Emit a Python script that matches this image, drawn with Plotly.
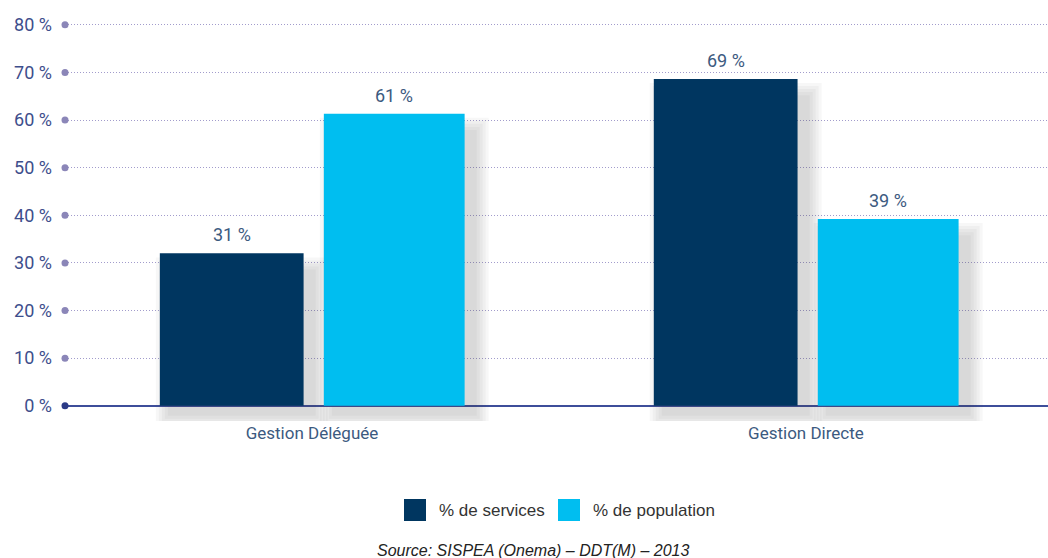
import plotly.graph_objects as go

categories = ["Gestion Déléguée", "Gestion Directe"]
services = [32.0, 68.6]
population = [61.3, 39.2]
services_labels = ["31 %", "69 %"]
population_labels = ["61 %", "39 %"]
tick_vals = [0, 10, 20, 30, 40, 50, 60, 70, 80]
tick_text = ["0 %", "10 %", "20 %", "30 %", "40 %", "50 %", "60 %", "70 %", "80 %"]
series_names = ["% de services", "% de population"]

DARK = "#003660"
CYAN = "#00BEF0"
TICKC = "#3D4E8C"
LABELC = "#3C5A80"

PX = 494.0   # pixels per category unit
PY = 4.7375  # pixels per percent
x_idx = [0, 1]

fig = go.Figure()

series = [
    (services, services_labels, -0.308, 0.291, DARK),
    (population, population_labels, 0.024, 0.285, CYAN),
]

# drop shadows (layered, to imitate blur)
for vals, _, off, w, _ in series:
    for s in [14, 11, 8, 5, 2]:
        fig.add_trace(go.Bar(
            x=x_idx,
            y=[v - (18 - s) / PY + (8 + s) / PY for v in vals],
            base=-(8 + s) / PY,
            offset=off + (10 - s) / PX, width=w + 2 * s / PX,
            marker=dict(color="rgba(60,60,70,0.045)", line=dict(width=0)),
            showlegend=False, hoverinfo="skip"))

annotations = []
for (vals, labels, off, w, col), name in zip(series, series_names):
    fig.add_trace(go.Bar(
        x=x_idx, y=vals, offset=off, width=w, name=name,
        marker=dict(color=col, line=dict(width=0)),
        showlegend=False, hoverinfo="skip"))
    for xi, v, lab in zip(x_idx, vals, labels):
        annotations.append(dict(x=xi + off + w / 2, y=v, xref="x", yref="y",
                                text=lab, showarrow=False, yanchor="bottom", yshift=6,
                                font=dict(family="Roboto", size=18, color=LABELC)))

# tick dots on the y axis
fig.add_trace(go.Scatter(
    x=[-0.5] * len(tick_vals), y=tick_vals, mode="markers",
    marker=dict(size=7, color=["#2B3A86"] + ["#8B86B8"] * (len(tick_vals) - 1)),
    cliponaxis=False, showlegend=False, hoverinfo="skip"))

# manual legend (large square swatches)
legend_shapes = []
lx = [404, 558]
for i, (name, col) in enumerate(zip(series_names, [DARK, CYAN])):
    legend_shapes.append(dict(type="rect", xref="paper", yref="paper",
                              x0=(lx[i] - 65) / 983, x1=(lx[i] + 22 - 65) / 983,
                              y0=(421 - 521) / 401, y1=(421 - 499) / 401,
                              fillcolor=col, line=dict(width=0)))
    annotations.append(dict(xref="paper", yref="paper", x=(lx[i] + 33 - 65) / 983,
                            y=(421 - 510) / 401, xanchor="left", yanchor="middle",
                            text=name, showarrow=False,
                            font=dict(family="Liberation Sans, Arial", size=17, color="#333333")))

annotations.append(dict(xref="paper", yref="paper", x=(533 - 65) / 983, y=(421 - 550) / 401,
                        xanchor="center", yanchor="middle", showarrow=False,
                        text="<i>Source: SISPEA (Onema) – DDT(M) – 2013</i>",
                        font=dict(family="Liberation Sans, Arial", size=16, color="#222222")))

fig.update_layout(
    width=1048, height=558,
    margin=dict(l=65, r=0, t=20, b=137),
    paper_bgcolor="white", plot_bgcolor="white",
    barmode="overlay",
    shapes=legend_shapes,
    annotations=annotations,
    xaxis=dict(range=[-0.5, 1.49], tickvals=x_idx, ticktext=categories,
               showgrid=False, zeroline=False, showline=False, ticks="",
               tickfont=dict(family="Roboto", size=17, color=LABELC)),
    yaxis=dict(range=[-3.2, 81], tickvals=tick_vals, ticktext=tick_text,
               showgrid=True, gridcolor="#A29CCC", griddash="1px,2px", gridwidth=1,
               zeroline=True, zerolinecolor="#3E4E9A", zerolinewidth=2,
               showline=False, ticks="", ticklabelstandoff=12,
               tickfont=dict(family="Roboto", size=18, color=TICKC)),
)

fig.write_html("out.html", config={"displayModeBar": False},
               post_script="document.body.style.margin='0';document.body.style.overflow='hidden';")
